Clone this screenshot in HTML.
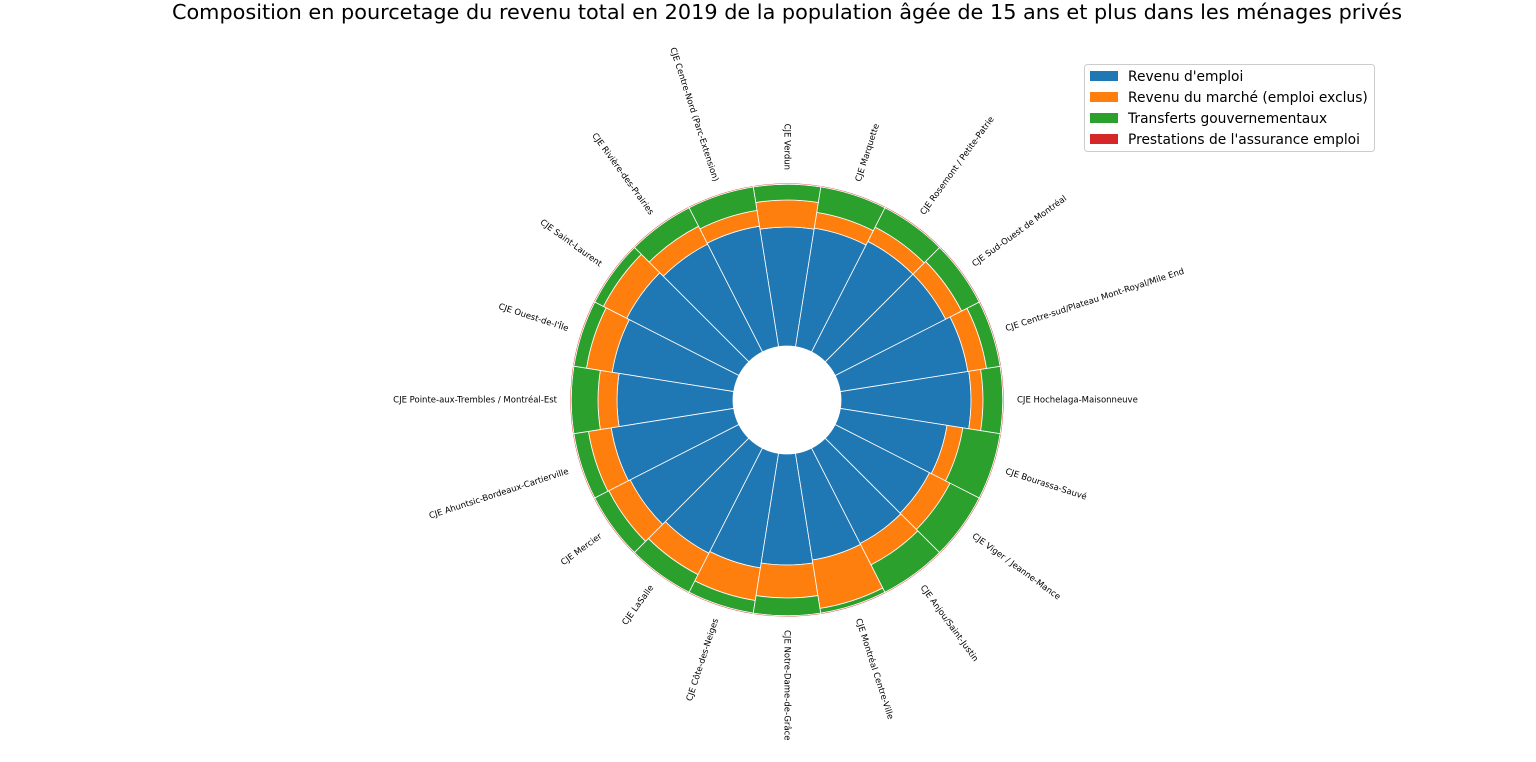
<!DOCTYPE html>
<html><head><meta charset="utf-8"><style>
html,body{margin:0;padding:0;background:#fff;}
svg{display:block;font-family:"DejaVu Sans","Liberation Sans",sans-serif;}
</style></head><body>
<svg id="s" width="1536" height="762" xmlns="http://www.w3.org/2000/svg">
<text x="787" y="19" text-anchor="middle" font-size="20.8" fill="#000">Composition en pourcetage du revenu total en 2019 de la population âgée de 15 ans et plus dans les ménages privés</text>
<g id="bars"></g>
<g id="labels" font-size="8.5" fill="#000"></g>
<g>
<rect x="1084.5" y="64.5" width="290" height="87" rx="3" fill="#fff" stroke="#ccc"/>
<rect x="1090" y="71" width="28" height="10" fill="#1f77b4"/>
<text x="1128" y="81" font-size="13.8">Revenu d'emploi</text>
<rect x="1090" y="92" width="28" height="10" fill="#ff7f0e"/>
<text x="1128" y="102" font-size="13.8">Revenu du marché (emploi exclus)</text>
<rect x="1090" y="113" width="28" height="10" fill="#2ca02c"/>
<text x="1128" y="123" font-size="13.8">Transferts gouvernementaux</text>
<rect x="1090" y="134" width="28" height="10" fill="#d62728"/>
<text x="1128" y="144" font-size="13.8">Prestations de l'assurance emploi</text>
</g>
</svg>
<script>
var cx=787,cy=400,r0=54,rout=217;
var d=[
["CJE Hochelaga-Maisonneuve",184,196],
["CJE Centre-sud/Plateau Mont-Royal/Mile End",183,202],
["CJE Sud-Ouest de Montréal",178,196],
["CJE Rosemont / Petite-Patrie",178,194],
["CJE Marquette",174,190],
["CJE Verdun",173,200],
["CJE Centre-Nord (Parc-Extension)",176,192],
["CJE Rivière-des-Prairies",175,195],
["CJE Saint-Laurent",180,206],
["CJE Ouest-de-l'Île",177,203],
["CJE Pointe-aux-Trembles / Montréal-Est",170,189],
["CJE Ahuntsic-Bordeaux-Cartierville",178,201],
["CJE Mercier",176,200],
["CJE LaSalle",172,196],
["CJE Côte-des-Neiges",170,203],
["CJE Notre-Dame-de-Grâce",165,198],
["CJE Montréal Centre-Ville",162,211],
["CJE Anjou/Saint-Justin",161,185],
["CJE Viger / Jeanne-Mance",160,183],
["CJE Bourassa-Sauvé",162,178]];
function pt(r,a){return (cx+r*Math.cos(a)).toFixed(2)+","+(cy-r*Math.sin(a)).toFixed(2);}
function seg(a1,a2,ri,ro,c){
 return '<path d="M'+pt(ri,a1)+' L'+pt(ro,a1)+' A'+ro+','+ro+' 0 0 0 '+pt(ro,a2)+' L'+pt(ri,a2)+' A'+ri+','+ri+' 0 0 1 '+pt(ri,a1)+' Z" fill="'+c+'" stroke="#fff" stroke-width="0.8"/>';}
var b="",l="";
d.forEach(function(e,i){
 var th=i*18,a=th*Math.PI/180,w=9*Math.PI/180;
 var a1=a-w,a2=a+w;
 b+=seg(a1,a2,r0,e[1],"#1f77b4");
 b+=seg(a1,a2,e[1],e[2],"#ff7f0e");
 b+=seg(a1,a2,e[2],rout-1.2,"#2ca02c");
 b+=seg(a1,a2,rout-1.2,rout,"#d62728");
 var x=cx+230*Math.cos(a),y=cy-230*Math.sin(a);
 var flip=(th>=90&&th<270);
 var rot=flip?(-th+180):(-th);
 l+='<text x="'+x.toFixed(1)+'" y="'+y.toFixed(1)+'" text-anchor="'+(flip?'end':'start')+'" dominant-baseline="middle" transform="rotate('+rot+' '+x.toFixed(1)+' '+y.toFixed(1)+')">'+e[0].replace(/&/g,'&amp;')+'</text>';
});
document.getElementById("bars").innerHTML=b;
document.getElementById("labels").innerHTML=l;
</script>
</body></html>
